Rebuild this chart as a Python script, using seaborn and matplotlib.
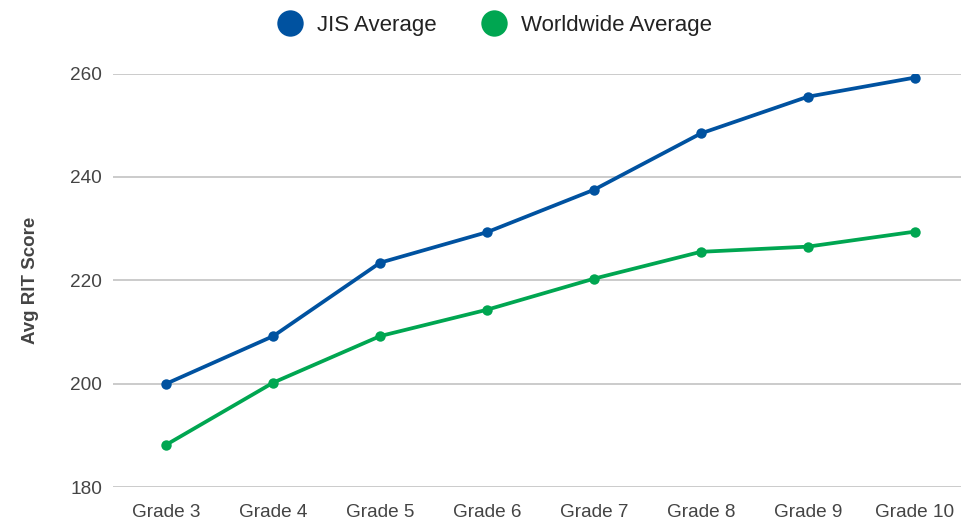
import matplotlib
matplotlib.use("Agg")
import matplotlib.pyplot as plt
import seaborn as sns
import pandas as pd
from matplotlib.lines import Line2D

grades = ["Grade 3", "Grade 4", "Grade 5", "Grade 6", "Grade 7", "Grade 8", "Grade 9", "Grade 10"]
jis_avg = [200, 209.2, 223.4, 229.3, 237.5, 248.4, 255.5, 259.2]
world_avg = [188.2, 200.2, 209.2, 214.3, 220.3, 225.5, 226.5, 229.4]
series_names = ["JIS Average", "Worldwide Average"]
colors = ["#0052A0", "#00A651"]
y_ticks = [180, 200, 220, 240, 260]

df = pd.DataFrame({
    "Grade": grades * 2,
    "Score": jis_avg + world_avg,
    "Series": [series_names[0]] * len(grades) + [series_names[1]] * len(grades),
})

sns.set_theme(style="white")
plt.rcParams['font.family'] = ['Liberation Sans', 'DejaVu Sans']

fig = plt.figure(figsize=(9.61, 5.20), dpi=100)
top, bottom = 73.5, 487
ax = fig.add_axes([113 / 961, 1 - bottom / 520, (968 - 113) / 961, (bottom - top) / 520])

sns.lineplot(data=df, x="Grade", y="Score", hue="Series", palette=colors,
             marker="o", markersize=7.5, markeredgewidth=0, linewidth=2.7,
             sort=False, legend=False, ax=ax, zorder=3)

ax.set_ylim(180, 260)
ax.set_xlim(-0.5, 7.5)
ax.set_yticks(y_ticks)
ax.yaxis.grid(True, color="#BDBDBD", linewidth=1.1)
ax.xaxis.grid(False)
for s in ax.spines.values():
    s.set_visible(False)
ax.tick_params(axis="both", length=0, labelsize=13.7, labelcolor="#444444")
ax.tick_params(axis="y", pad=8)
ax.tick_params(axis="x", pad=12)
ax.set_xlabel("")
ax.set_ylabel("Avg RIT Score", fontsize=13.5, fontweight="bold", color="#444444", labelpad=22)

handles = [Line2D([], [], marker="o", linestyle="", markersize=19, color=c, markeredgewidth=0)
           for c in colors]
fig.legend(handles, series_names, loc="center", bbox_to_anchor=(490 / 961, 1 - 25 / 520),
           ncol=2, frameon=False, fontsize=16, handletextpad=0.2, columnspacing=1.6,
           labelcolor="#222222")

fig.savefig("out.png", dpi=100)
